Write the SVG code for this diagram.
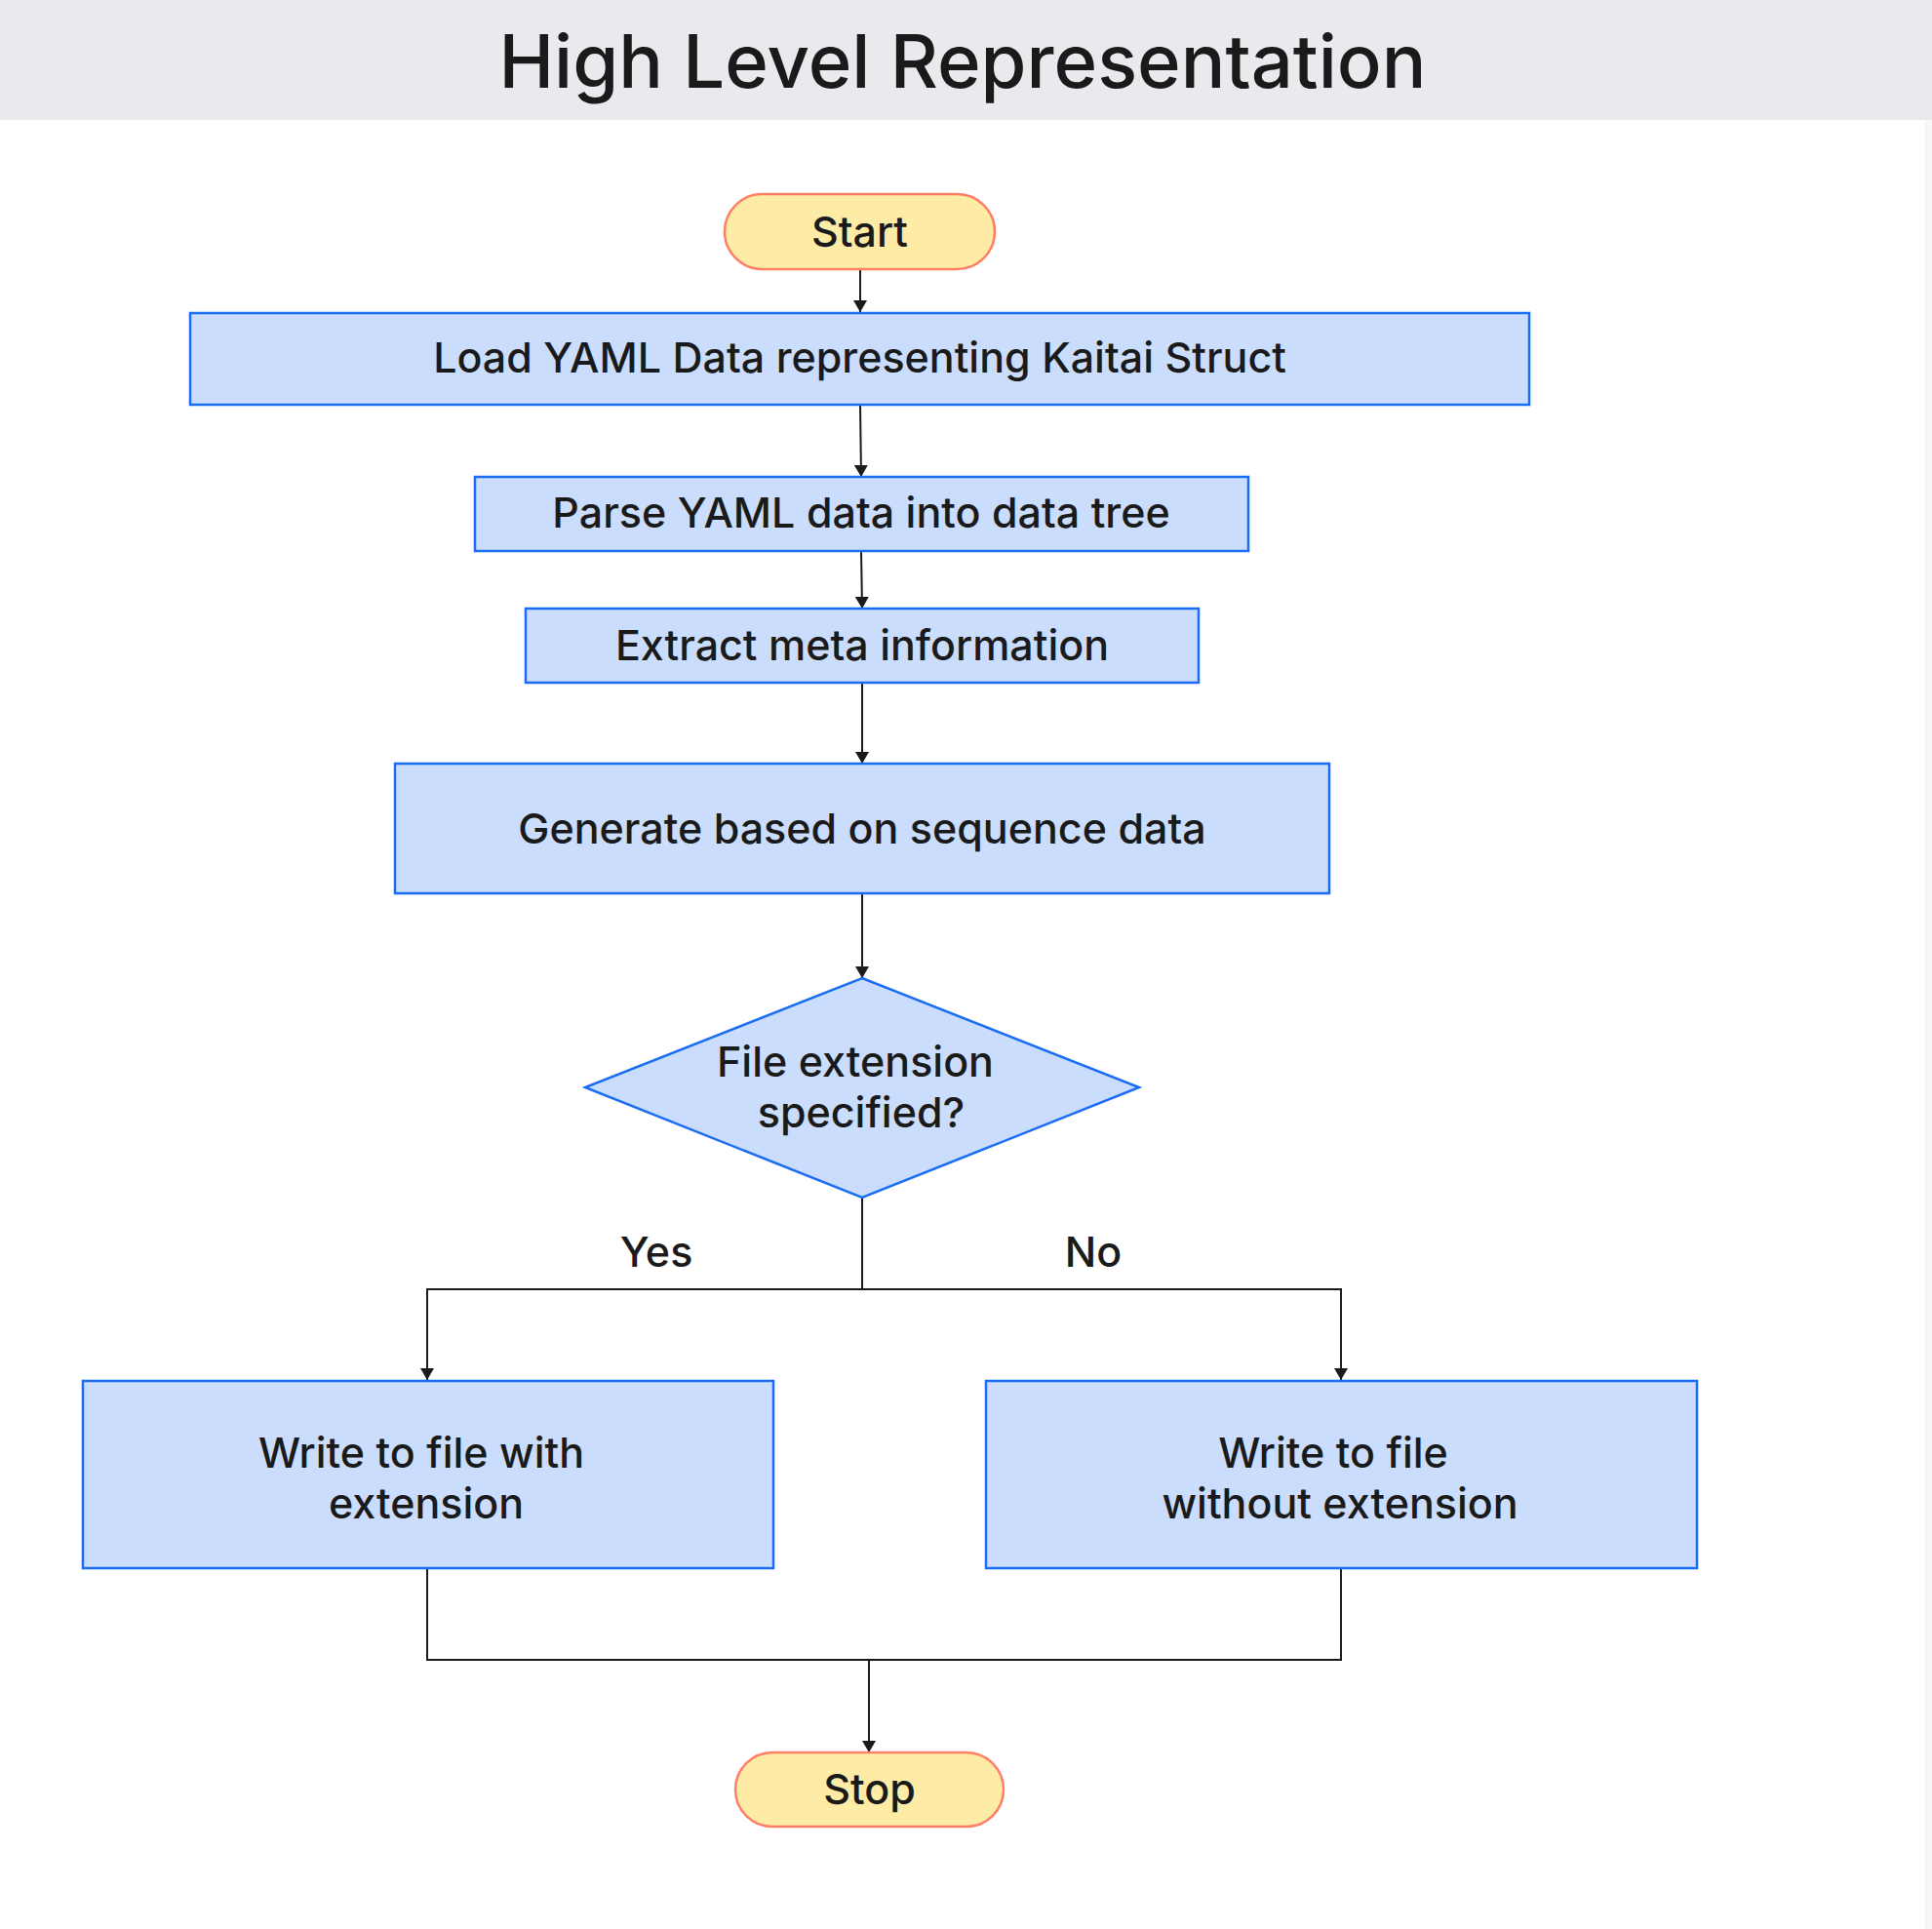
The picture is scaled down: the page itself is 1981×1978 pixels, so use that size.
<svg xmlns="http://www.w3.org/2000/svg" width="1981" height="1978" viewBox="0 0 1981 1978">
<style>
.t{font-family:Inter,"Noto Sans","Liberation Sans",sans-serif;fill:#1a1a1a;text-anchor:middle;font-weight:500}
.n{font-size:43px}
.box{fill:#cbddfc;stroke:#1a6cf5;stroke-width:2.5}
.term{fill:#fdeba6;stroke:#ff7f66;stroke-width:2.5}
.c{fill:none;stroke:#1a1a1a;stroke-width:2}
</style>
<defs>
<marker id="ah" markerUnits="userSpaceOnUse" markerWidth="12" markerHeight="14" refX="12" refY="7" orient="auto">
<path d="M0,0 L12,7 L0,14 z" fill="#1a1a1a"/>
</marker>
</defs>
<rect x="0" y="0" width="1981" height="1978" fill="#ffffff"/>
<rect x="0" y="0" width="1981" height="123" fill="#e9eaee"/>
<rect x="1974" y="123" width="7" height="1855" fill="#f8f8f9"/>
<line x1="1974.5" y1="123" x2="1974.5" y2="1978" stroke="#efeff1" stroke-width="1"/>
<text class="t" x="987" y="90" font-size="76">High Level Representation</text>

<g id="connectors">
<path class="c" d="M882,276 V320" marker-end="url(#ah)"/>
<path class="c" d="M882,415 L883,489" marker-end="url(#ah)"/>
<path class="c" d="M883,565 L884,624" marker-end="url(#ah)"/>
<path class="c" d="M884,700 V783" marker-end="url(#ah)"/>
<path class="c" d="M884,916 V1003" marker-end="url(#ah)"/>
<path class="c" d="M884,1228 V1322 H438 V1415" marker-end="url(#ah)"/>
<path class="c" d="M884,1322 H1375 V1415" marker-end="url(#ah)"/>
<path class="c" d="M438,1608 V1702 H1375 V1608"/>
<path class="c" d="M891,1702 V1797" marker-end="url(#ah)"/>
<text class="t n" x="673" y="1299">Yes</text>
<text class="t n" x="1121" y="1299">No</text>
</g>

<g id="start">
<rect class="term" x="743" y="199" width="277" height="77" rx="38.5"/>
<text class="t n" x="881.5" y="253">Start</text>
</g>
<g id="load">
<rect class="box" x="195" y="321" width="1373" height="94"/>
<text class="t n" x="881.5" y="382">Load YAML Data representing Kaitai Struct</text>
</g>
<g id="parse">
<rect class="box" x="487" y="489" width="793" height="76"/>
<text class="t n" x="883" y="541">Parse YAML data into data tree</text>
</g>
<g id="extract">
<rect class="box" x="539" y="624" width="690" height="76"/>
<text class="t n" x="884" y="677">Extract meta information</text>
</g>
<g id="generate">
<rect class="box" x="405" y="783" width="958" height="133"/>
<text class="t n" x="884" y="865">Generate based on sequence data</text>
</g>
<g id="decision">
<polygon class="box" points="884,1003 1168,1115 884,1228 600,1115"/>
<text class="t n" x="877" y="1104">File extension</text>
<text class="t n" x="883" y="1156">specified?</text>
</g>
<g id="write-with">
<rect class="box" x="85" y="1416" width="708" height="192"/>
<text class="t n" x="432" y="1505">Write to file with</text>
<text class="t n" x="437" y="1557">extension</text>
</g>
<g id="write-without">
<rect class="box" x="1011" y="1416" width="729" height="192"/>
<text class="t n" x="1367" y="1505">Write to file</text>
<text class="t n" x="1374" y="1557">without extension</text>
</g>
<g id="stop">
<rect class="term" x="754" y="1797" width="275" height="76" rx="38"/>
<text class="t n" x="891.5" y="1850">Stop</text>
</g>
</svg>
